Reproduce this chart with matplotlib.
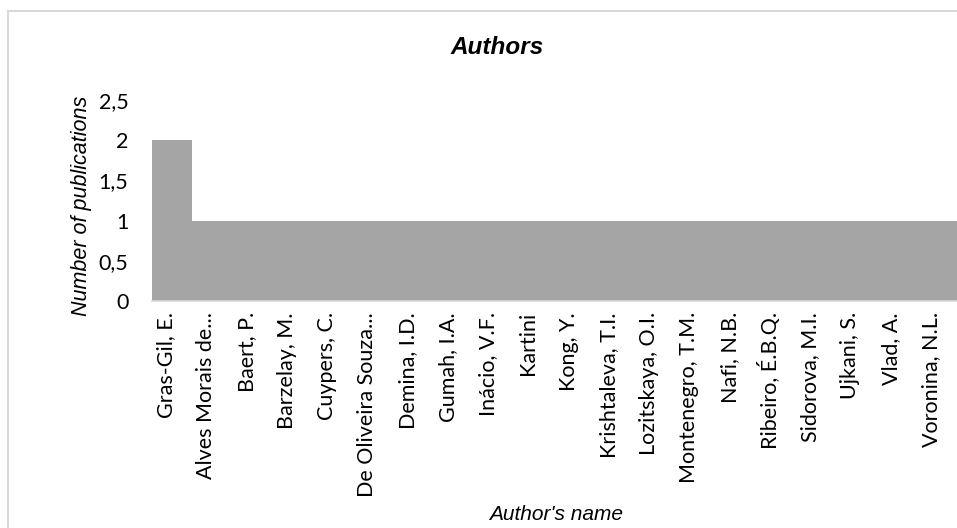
import matplotlib
matplotlib.use("Agg")
import matplotlib.pyplot as plt
from matplotlib.patches import Rectangle
from matplotlib.transforms import ScaledTranslation

authors = ["Gras-Gil, E.", "Alves Morais de...", "Baert, P.", "Barzelay, M.",
           "Cuypers, C.", "De Oliveira Souza...", "Demina, I.D.", "Gumah, I.A.",
           "Inácio, V.F.", "Kartini", "Kong, Y.", "Krishtaleva, T.I.",
           "Lozitskaya, O.I.", "Montenegro, T.M.", "Nafi, N.B.", "Ribeiro, É.B.Q.",
           "Sidorova, M.I.", "Ujkani, S.", "Vlad, A.", "Voronina, N.L."]
publications = [2, 1, 1, 1, 1, 1, 1, 1, 1, 1, 1, 1, 1, 1, 1, 1, 1, 1, 1, 1]
yticks = [0, 0.5, 1, 1.5, 2, 2.5]
ytick_labels = ["0", "0,5", "1", "1,5", "2", "2,5"]

W, H = 957, 528
fig = plt.figure(figsize=(W / 100, H / 100), dpi=100)
ax = fig.add_axes([152 / W, 1 - 301 / H, 1 - 152 / W, (301 - 100) / H])

# outer chart frame (cut by the image edges on the right and bottom)
fig.patches.append(Rectangle((8 / W, -0.2), 1.5, 1.2 - 11 / H, transform=fig.transFigure,
                             fill=False, edgecolor="#d9d9d9", linewidth=1.5))

x = range(len(authors))
ax.bar(x, publications, width=1.0, color="#a5a5a5", edgecolor="none")

ax.set_xlim(-0.5, len(authors) - 0.5)
ax.set_ylim(0, 2.5)
ax.set_yticks(yticks)
ax.set_yticklabels(ytick_labels, fontfamily="Lato", fontsize=15.5)
ax.set_xticks(list(x))
ax.set_xticklabels(authors, rotation=90, fontfamily="Lato", fontsize=15.5)
ax.tick_params(axis="both", length=0)
ax.tick_params(axis="y", pad=17)
ax.tick_params(axis="x", pad=8)

off = ScaledTranslation(-6 / 100, 0, fig.dpi_scale_trans)
for lbl in ax.get_xticklabels():
    lbl.set_transform(lbl.get_transform() + off)

for s in ["top", "right", "left"]:
    ax.spines[s].set_visible(False)
ax.spines["bottom"].set_color("#d9d9d9")
ax.spines["bottom"].set_linewidth(1.2)

fig.text(497 / W, 1 - 47 / H, "Authors", ha="center", va="center",
         fontfamily="Liberation Sans", fontweight="bold", fontstyle="italic", fontsize=17.5)
fig.text(556 / W, 1 - 515 / H, "Author's name", ha="center", va="center",
         fontfamily="Liberation Sans", fontstyle="italic", fontsize=15)
fig.text(82 / W, 1 - 206 / H, "Number of publications", ha="center", va="center",
         rotation=90, fontfamily="Liberation Sans", fontstyle="italic", fontsize=15.5)

fig.savefig("out.png", dpi=100)
